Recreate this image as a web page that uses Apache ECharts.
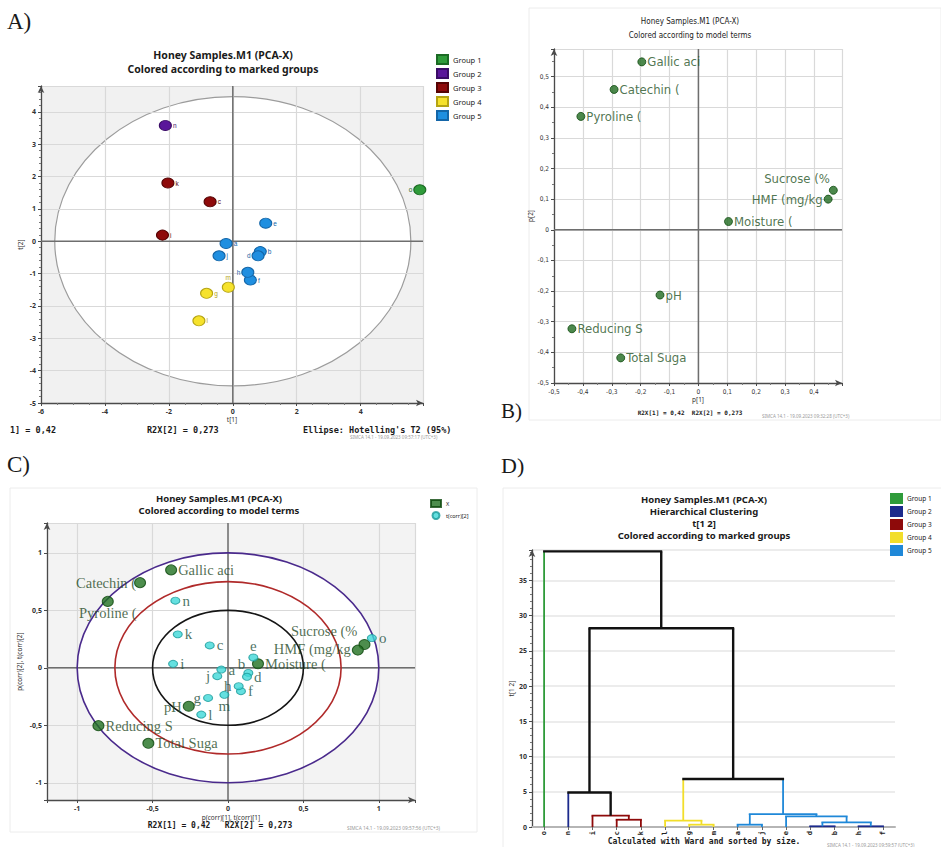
<!DOCTYPE html>
<html>
<head>
<meta charset="utf-8">
<title>Honey Samples.M1 (PCA-X)</title>
<script src="https://cdn.jsdelivr.net/npm/echarts@6/dist/echarts.min.js"></script>
<style>
html, body { margin: 0; padding: 0; background: #fff; }
#main { width: 941px; height: 847px; }
</style>
</head>
<body>
<div id="main"></div>
<script>
// samples a..o, group membership, scores t[1], t[2] (panel A)
const sampleNames = ['a','b','c','d','e','f','g','h','i','j','k','l','m','n','o'];
const sampleGroup = [5, 5, 3, 5, 5, 5, 4, 5, 3, 5, 3, 4, 4, 2, 1];
const scoreT1 = [-0.21, 0.86, -0.71, 0.79, 1.03, 0.55, -0.82, 0.47, -2.20, -0.43, -2.03, -1.06, -0.14, -2.11, 5.85];
const scoreT2 = [-0.07, -0.32, 1.22, -0.45, 0.56, -1.20, -1.61, -0.96, 0.19, -0.45, 1.80, -2.46, -1.42, 3.58, 1.59];
// hotelling T2 ellipse half axes
const hotellingT2 = [5.57, 4.47];

// variables, loadings p[1], p[2] (panel B)
const varNames = ['Gallic aci', 'Catechin (', 'Pyroline (', 'Sucrose (%', 'HMF (mg/kg', 'Moisture (', 'pH', 'Reducing S', 'Total Suga'];
const loadP1 = [-0.196, -0.292, -0.407, 0.467, 0.449, 0.104, -0.133, -0.438, -0.269];
const loadP2 = [0.548, 0.458, 0.370, 0.129, 0.100, 0.027, -0.213, -0.323, -0.418];

// correlation biplot (panel C)
const corrP1 = [-0.377, -0.583, -0.797, 0.905, 0.861, 0.199, -0.260, -0.859, -0.528];
const corrP2 = [0.852, 0.741, 0.578, 0.203, 0.154, 0.035, -0.334, -0.503, -0.657];
const corrT1 = [-0.044, 0.135, -0.121, 0.126, 0.168, 0.086, -0.132, 0.071, -0.364, -0.071, -0.333, -0.177, -0.024, -0.349, 0.954];
const corrT2 = [-0.015, -0.044, 0.195, -0.078, 0.090, -0.203, -0.262, -0.160, 0.035, -0.073, 0.291, -0.407, -0.235, 0.584, 0.259];
const corrCircles = [1, 0.75, 0.5];

// dendrogram (panel D), leaves sorted by size, x = leaf index
const leafOrder = ['o','n','i','c','k','l','g','m','a','j','e','d','b','h','f'];
const mergeLeftX    = [3, 2, 1, 6, 5, 8, 11, 13, 11.5, 10, 8.5, 5.75, 1.875, 0];
const mergeRightX   = [4, 3.5, 2.75, 7, 6.5, 9, 12, 14, 13.5, 12.5, 11.25, 9.875, 7.8125, 4.84];
const mergeLeftFrom = [0, 0, 0, 0, 0, 0, 0, 0, 0.1, 0, 0.33, 0.9, 4.9, 0];
const mergeRightFrom= [0, 1.03, 1.6, 0, 0.33, 0, 0, 0, 0.1, 0.65, 1.5, 1.84, 6.8, 28.2];
const mergeHeight   = [1.03, 1.6, 4.9, 0.33, 0.9, 0.33, 0.1, 0.1, 0.65, 1.5, 1.84, 6.8, 28.2, 39.1];
// group colour of left leg, right leg, top bar (0 = not in one group)
const mergeLeftGroup  = [3, 3, 2, 4, 4, 5, 2, 2, 5, 5, 5, 4, 0, 1];
const mergeRightGroup = [3, 3, 0, 4, 4, 5, 2, 2, 5, 5, 5, 5, 0, 0];
const mergeTopGroup   = [3, 3, 0, 4, 4, 5, 2, 2, 5, 5, 5, 0, 0, 0];

const groupNames = ['Group 1', 'Group 2', 'Group 3', 'Group 4', 'Group 5'];

// colours
const colA = { 1: '#2f9b3a', 2: '#5a169a', 3: '#8e0a0a', 4: '#f6e22c', 5: '#1f8fe0' };
const borderA = { 1: '#1b6a24', 2: '#3a0b66', 3: '#560404', 4: '#b5a414', 5: '#1466a8' };
const colD = { 0: '#111111', 1: '#2f9b3a', 2: '#1c2a8c', 3: '#8e0a0a', 4: '#f2de2a', 5: '#1f88d8' };

const sans = '"Noto Sans", "DejaVu Sans", sans-serif';
const narrow = '"Liberation Sans Narrow", "DejaVu Sans Condensed", "Liberation Sans", sans-serif';
const serif = '"Liberation Serif", "DejaVu Serif", serif';
const mono = '"DejaVu Sans Mono", "Liberation Mono", monospace';

const chart = echarts.init(document.getElementById('main'), null, { renderer: 'svg' });

// tick label helper: only label multiples of step, decimal comma
function stepLabel(step, comma) {
    return function (v) {
        const k = Math.round(v / step);
        if (Math.abs(v - k * step) > 1e-6) return '';
        let s = String(Math.round(k * step * 100) / 100);
        return comma ? s.replace('.', ',') : s;
    };
}

function valAxis(grid, min, max, step, name, nameGap, comma, extra) {
    const ax = {
        gridIndex: grid, type: 'value', min: min, max: max,
        name: name, nameLocation: 'middle', nameGap: nameGap,
        nameTextStyle: { fontSize: 6.5, fontFamily: sans, color: '#333' },
        axisLine: { show: true, onZero: false, symbol: ['none', 'arrow'], symbolSize: [5, 7], lineStyle: { color: '#4a4a4a', width: 1.3 } },
        axisTick: { show: true, length: 3, lineStyle: { color: '#4a4a4a' } },
        minorTick: { show: true, splitNumber: 5, length: 2, lineStyle: { color: '#777' } },
        axisLabel: { fontSize: 7, fontWeight: 'bold', fontFamily: sans, color: '#333', margin: 5, formatter: stepLabel(step, comma) },
        splitLine: { show: true, lineStyle: { color: '#d9d9d9', width: 1.2 } },
        minorSplitLine: { show: false }
    };
    return Object.assign(ax, extra || {});
}

// ---------- panel A series ----------
const labelPosA = { d: 'left', h: 'left', o: 'left', m: 'top' };
const seriesA = [1, 2, 3, 4, 5].map(g => ({
    name: 'Group ' + g,
    type: 'scatter', xAxisIndex: 0, yAxisIndex: 0, z: 3,
    symbolSize: [12, 10],
    itemStyle: { color: colA[g], borderColor: borderA[g], borderWidth: 1, opacity: 1 },
    label: { show: true, fontSize: 6.5, color: borderA[g], distance: 1, formatter: p => p.name },
    data: sampleNames.map((n, i) => ({ name: n, value: [scoreT1[i], scoreT2[i]], g: sampleGroup[i], label: { position: labelPosA[n] || 'right' } }))
        .filter(d => d.g === g)
}));

const bgA = {
    type: 'custom', xAxisIndex: 0, yAxisIndex: 0, z: -1, silent: true,
    data: [hotellingT2],
    renderItem: (params, api) => {
        const cs = params.coordSys;
        const c = api.coord([0, 0]);
        const s = api.size([api.value(0), api.value(1)]);
        return { type: 'group', children: [
            { type: 'rect', shape: { x: cs.x, y: cs.y, width: cs.width, height: cs.height }, style: { fill: '#f1f1f1' } },
            { type: 'ellipse', shape: { cx: c[0], cy: c[1], rx: s[0], ry: s[1] }, style: { fill: '#ffffff', stroke: '#9c9c9c', lineWidth: 1.2 } }
        ] };
    }
};

function zeroLines(xi, yi) {
    return {
        type: 'custom', xAxisIndex: xi, yAxisIndex: yi, z: 1, silent: true,
        data: [[0, 0]],
        renderItem: (params, api) => {
            const cs = params.coordSys;
            const c = api.coord([0, 0]);
            return { type: 'group', children: [
                { type: 'line', shape: { x1: cs.x, y1: c[1], x2: cs.x + cs.width, y2: c[1] }, style: { stroke: '#6e6e6e', lineWidth: 1.5 } },
                { type: 'line', shape: { x1: c[0], y1: cs.y, x2: c[0], y2: cs.y + cs.height }, style: { stroke: '#6e6e6e', lineWidth: 1.5 } }
            ] };
        }
    };
}

// ---------- panel B ----------
const labelPosB = { 'Sucrose (%': ['left', [2, -12]], 'HMF (mg/kg': ['left', [0, 0]] };
const seriesB = {
    name: 'p', type: 'scatter', xAxisIndex: 1, yAxisIndex: 1, z: 3,
    symbolSize: 8,
    itemStyle: { color: '#1f6a1f', borderColor: '#0f4a0f', borderWidth: 1 },
    label: { show: true, fontSize: 13, fontFamily: narrow, color: '#245224', distance: 1, formatter: p => p.name },
    data: varNames.map((n, i) => {
        const lp = labelPosB[n] || ['right', [0, 0]];
        return { name: n, value: [loadP1[i], loadP2[i]], label: { position: lp[0], offset: lp[1] } };
    })
};

// ---------- panel C ----------
const labelPosCX = {
    'Catechin (': ['left', [3, 0]], 'Pyroline (': ['bottom', [0, 0]], 'Sucrose (%': ['left', [0, -13]],
    'HMF (mg/kg': ['left', [0, -1]], 'pH': ['left', [0, 1]]
};
const labelPosCT = { b: ['left', [4, -9]], e: ['top', [0, 0]], g: ['left', [0, 0]], h: ['left', [0, 0]], j: ['left', [0, 0]], m: ['bottom', [0, 0]] };
const bgC = {
    type: 'custom', xAxisIndex: 2, yAxisIndex: 2, z: -1, silent: true,
    data: [[corrCircles[0], corrCircles[0]]],
    renderItem: (params, api) => {
        const cs = params.coordSys;
        const c = api.coord([0, 0]);
        const s = api.size([api.value(0), api.value(1)]);
        return { type: 'group', children: [
            { type: 'rect', shape: { x: cs.x, y: cs.y, width: cs.width, height: cs.height }, style: { fill: '#f3f3f3' } },
            { type: 'ellipse', shape: { cx: c[0], cy: c[1], rx: s[0], ry: s[1] }, style: { fill: '#ffffff' } }
        ] };
    }
};
const circleColors = ['#4a2a8c', '#b02a2a', '#151515'];
const circlesC = {
    type: 'custom', xAxisIndex: 2, yAxisIndex: 2, z: 1, silent: true,
    data: corrCircles.map(r => [r, r]),
    renderItem: (params, api) => {
        const c = api.coord([0, 0]);
        const s = api.size([api.value(0), api.value(1)]);
        return { type: 'ellipse', shape: { cx: c[0], cy: c[1], rx: s[0], ry: s[1] }, style: { fill: 'none', stroke: circleColors[params.dataIndex], lineWidth: 1.6 } };
    }
};
const seriesCX = {
    name: 'X', type: 'scatter', xAxisIndex: 2, yAxisIndex: 2, z: 3,
    symbolSize: [11, 10],
    itemStyle: { color: '#217021', borderColor: '#0d470d', borderWidth: 1 },
    label: { show: true, fontSize: 14.5, fontFamily: serif, color: '#1f4a1f', distance: 1, lineHeight: 11, formatter: p => p.name },
    data: varNames.map((n, i) => {
        const lp = labelPosCX[n] || ['right', [0, 0]];
        return { name: n, value: [corrP1[i], corrP2[i]], label: { position: lp[0], offset: lp[1] } };
    })
};
const seriesCT = {
    name: 't(corr)[2]', type: 'scatter', xAxisIndex: 2, yAxisIndex: 2, z: 3,
    symbolSize: [9, 7],
    itemStyle: { color: '#3fd8d8', borderColor: '#1a9a9a', borderWidth: 1 },
    label: { show: true, fontSize: 15, fontFamily: serif, color: '#21503c', distance: 2, lineHeight: 11, formatter: p => p.name },
    data: sampleNames.map((n, i) => {
        const lp = labelPosCT[n] || ['right', [0, 0]];
        return { name: n, value: [corrT1[i], corrT2[i]], label: { position: lp[0], offset: lp[1] } };
    })
};

// ---------- panel D ----------
const dendro = {
    name: 'dendrogram', type: 'custom', xAxisIndex: 4, yAxisIndex: 3, z: 3, silent: true,
    data: mergeHeight.map((h, i) => [mergeLeftX[i], h, mergeRightX[i], mergeLeftFrom[i], mergeRightFrom[i],
        mergeLeftGroup[i], mergeRightGroup[i], mergeTopGroup[i]]),
    encode: { x: [0, 2], y: [1, 3, 4] },
    renderItem: (params, api) => {
        const lx = api.value(0), h = api.value(1), rx = api.value(2);
        const tl = api.coord([lx, h]), bl = api.coord([lx, api.value(3)]);
        const tr = api.coord([rx, h]), br = api.coord([rx, api.value(4)]);
        const w = g => (g === 0 ? 2.4 : 1.8);
        const lg = api.value(5), rg = api.value(6), tg = api.value(7);
        return { type: 'group', children: [
            { type: 'line', shape: { x1: bl[0], y1: bl[1], x2: tl[0], y2: tl[1] }, style: { stroke: colD[lg], lineWidth: w(lg) } },
            { type: 'line', shape: { x1: br[0], y1: br[1], x2: tr[0], y2: tr[1] }, style: { stroke: colD[rg], lineWidth: w(rg) } },
            { type: 'line', shape: { x1: tl[0] - 1, y1: tl[1], x2: tr[0] + 1, y2: tr[1] }, style: { stroke: colD[tg], lineWidth: w(tg) } }
        ] };
    }
};

// ---------- text ----------
function txt(x, y, text, style) {
    return { type: 'text', x: x, y: y, silent: true, z: 10,
        style: Object.assign({ text: text, fill: '#1a1a1a', fontFamily: sans, fontSize: 8, textAlign: 'left', textVerticalAlign: 'middle' }, style || {}) };
}
function frame(x, y, w, h) {
    return { type: 'rect', silent: true, z: -5, shape: { x: x, y: y, width: w, height: h }, style: { fill: 'none', stroke: '#ececec', lineWidth: 1 } };
}
const titleStyle = { fontSize: 10.5, fontWeight: 'bold', textAlign: 'center', fontFamily: sans, lineHeight: 12 };
const titleSmall = { fontSize: 9.5, fontWeight: 'bold', textAlign: 'center', fontFamily: sans, lineHeight: 10 };

const graphics = [
    frame(529, 8, 412, 412), frame(10, 488, 467, 344), frame(503, 488, 440, 362),
    // panel letters
    txt(7, 21, 'A)', { fontSize: 23, fontFamily: serif }),
    txt(501, 411, 'B)', { fontSize: 21, fontFamily: serif }),
    txt(7, 464, 'C)', { fontSize: 23, fontFamily: serif }),
    txt(501, 465, 'D)', { fontSize: 22, fontFamily: serif }),
    // titles
    txt(223, 55, 'Honey Samples.M1 (PCA-X)', titleStyle),
    txt(223, 69, 'Colored according to marked groups', titleStyle),
    txt(690, 21, 'Honey Samples.M1 (PCA-X)', { fontSize: 8, textAlign: 'center', fontFamily: narrow }),
    txt(690, 35, 'Colored according to model terms', { fontSize: 8, textAlign: 'center', fontFamily: narrow }),
    txt(219, 498, 'Honey Samples.M1 (PCA-X)', titleSmall),
    txt(219, 510, 'Colored according to model terms', titleSmall),
    txt(704, 499, 'Honey Samples.M1 (PCA-X)', titleSmall),
    txt(704, 511, 'Hierarchical Clustering', titleSmall),
    txt(704, 523, 't[1 2]', titleSmall),
    txt(704, 535, 'Colored according to marked groups', titleSmall),
    // footers A
    txt(10, 430, '1] = 0,42', { fontFamily: mono, fontWeight: 'bold', fontSize: 8.5 }),
    txt(147, 430, 'R2X[2] = 0,273', { fontFamily: mono, fontWeight: 'bold', fontSize: 8.5 }),
    txt(303, 430, "Ellipse: Hotelling's T2 (95%)", { fontFamily: mono, fontWeight: 'bold', fontSize: 8.5 }),
    txt(350, 437, 'SIMCA 14.1 - 19.09.2023 09:57:17 (UTC+3)', { fontSize: 4.5, fill: '#999' }),
    // footers B
    txt(690, 412, 'R2X[1] = 0,42  R2X[2] = 0,273', { fontFamily: mono, fontWeight: 'bold', fontSize: 6, textAlign: 'center' }),
    txt(762, 416, 'SIMCA 14.1 - 19.09.2023 09:32:28 (UTC+3)', { fontSize: 4.5, fill: '#999' }),
    // footers C
    txt(220, 825, 'R2X[1] = 0,42   R2X[2] = 0,273', { fontFamily: mono, fontWeight: 'bold', fontSize: 8, textAlign: 'center' }),
    txt(347, 828, 'SIMCA 14.1 - 19.09.2023 09:57:56 (UTC+3)', { fontSize: 4.8, fill: '#999' }),
    // footers D
    txt(704, 841, 'Calculated with Ward and sorted by size.', { fontFamily: mono, fontWeight: 'bold', fontSize: 8, textAlign: 'center' }),
    txt(827, 845, 'SIMCA 14.1 - 19.09.2023 09:59:57 (UTC+3)', { fontSize: 4.5, fill: '#999' })
];

const legendText = { fontSize: 7.5, fontFamily: sans, color: '#222' };

const option = {
    backgroundColor: '#ffffff',
    animation: false,
    grid: [
        { left: 41, top: 86, width: 382, height: 317 },
        { left: 554, top: 49, width: 288, height: 334 },
        { left: 47, top: 523, width: 368, height: 277 },
        { left: 532, top: 550, width: 363, height: 277 }
    ],
    xAxis: [
        valAxis(0, -6, 5.95, 2, 't[1]', 12, false, { interval: 2, minorTick: { show: true, splitNumber: 4, length: 2, lineStyle: { color: '#777' } } }),
        valAxis(1, -0.5, 0.497, 0.1, 'p[1]', 12, true, { interval: 0.1, minorTick: { show: true, splitNumber: 2, length: 2, lineStyle: { color: '#777' } },
            axisLabel: { fontSize: 6.5, fontFamily: narrow, color: '#333', margin: 5, formatter: stepLabel(0.1, true) } }),
        valAxis(2, -1.2, 1.24, 0.5, 'p(corr)[1], t(corr)[1]', 14, true, { minInterval: 0.5, maxInterval: 0.5, splitNumber: 5, minorTick: { show: false } }),
        { gridIndex: 3, type: 'category', data: leafOrder, boundaryGap: true,
          axisLine: { show: true, lineStyle: { color: '#b5b5b5', width: 2 } },
          axisTick: { show: true, alignWithLabel: true, length: 3, lineStyle: { color: '#666' } },
          axisLabel: { rotate: 90, fontSize: 7, fontWeight: 'bold', fontFamily: mono, color: '#222', margin: 4 },
          splitLine: { show: false } },
        { gridIndex: 3, type: 'value', min: -0.5, max: 14.5, show: false, splitLine: { show: false } }
    ],
    yAxis: [
        valAxis(0, -5, 4.8, 1, 't[2]', 17, false, { interval: 1 }),
        valAxis(1, -0.5, 0.59, 0.1, 'p[2]', 18, true, { interval: 0.1, minorTick: { show: true, splitNumber: 2, length: 2, lineStyle: { color: '#777' } },
            axisLabel: { fontSize: 6.5, fontFamily: narrow, color: '#333', margin: 5, formatter: stepLabel(0.1, true) } }),
        valAxis(2, -1.15, 1.26, 0.5, 'p(corr)[2], t(corr)[2]', 24, true, { minInterval: 0.5, maxInterval: 0.5, splitNumber: 5, minorTick: { show: false } }),
        valAxis(3, 0, 39.3, 5, 't[1 2]', 16, false, { interval: 5, splitLine: { show: true, lineStyle: { color: '#e6e6e6', width: 1.5 } } })
    ],
    legend: [
        { left: 431, top: 49, orient: 'vertical', itemWidth: 11, itemHeight: 9, itemGap: 3, icon: 'rect', textStyle: legendText,
          data: groupNames, selectedMode: false },
        { left: 425, top: 494, orient: 'vertical', itemWidth: 10, itemHeight: 7, itemGap: 3, textStyle: { fontSize: 5.5, fontFamily: sans, color: '#222' },
          data: [{ name: 'X', icon: 'rect' }, { name: 't(corr)[2]', icon: 'circle' }], selectedMode: false },
        { left: 890, top: 493, padding: 0, orient: 'vertical', itemWidth: 11, itemHeight: 9, itemGap: 2, itemTextGap: 3, icon: 'rect',
          textStyle: { fontSize: 6.5, fontFamily: sans, color: '#222' }, selectedMode: false,
          data: groupNames.map((n, i) => ({ name: n, itemStyle: { color: colD[i + 1], borderColor: colD[i + 1] } })) }
    ],
    graphic: graphics,
    series: [bgA, zeroLines(0, 0)].concat(seriesA, [zeroLines(1, 1), seriesB, bgC, zeroLines(2, 2), circlesC, seriesCX, seriesCT, dendro])
};

chart.setOption(option);
</script>
</body>
</html>
